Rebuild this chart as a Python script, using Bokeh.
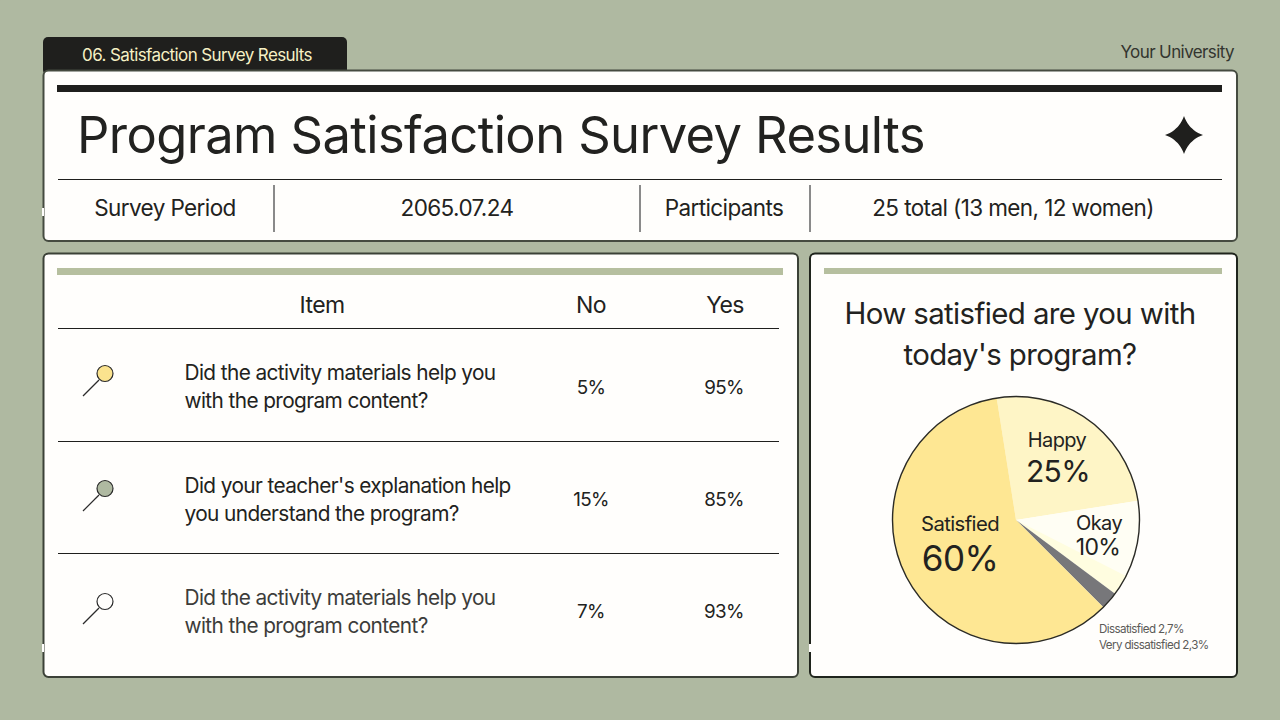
import numpy as np
from bokeh.core.properties import value
from bokeh.embed import file_html
from bokeh.models import GlobalInlineStyleSheet, Range1d
from bokeh.plotting import figure
from bokeh.resources import INLINE

# survey data
tab_label = "06. Satisfaction Survey Results"
school = "Your University"
title = "Program Satisfaction Survey Results"
info_labels = ["Survey Period", "2065.07.24", "Participants", "25 total (13 men, 12 women)"]
table_head = ["Item", "No", "Yes"]
questions = [
    ["Did the activity materials help you", "with the program content?"],
    ["Did your teacher's explanation help", "you understand the program?"],
    ["Did the activity materials help you", "with the program content?"],
]
no_pct = [5, 15, 7]
yes_pct = [95, 85, 93]
pie_question = ["How satisfied are you with", "today's program?"]
pie_labels = ["Happy", "Okay", "Dissatisfied", "Very dissatisfied", "Satisfied"]
pie_values = [25, 10, 2.7, 2.3, 60]
pie_colors = ["#fef5c6", "#fffef4", "#fffde0", "#77777a", "#fee793"]
icon_colors = ["#fbe38e", "#afb9a1", "#fffefc"]

BG = "#afb9a1"
PAPER = "#fffefc"
INK = "#222220"
FONT = "Inter"
SPACING = 0.6


def Y(v):
    # picture pixels count from the top, the plot counts from the bottom
    return 720 - np.asarray(v, dtype=float)


p = figure(width=1264, height=704, output_backend="svg", toolbar_location=None,
           x_range=Range1d(0.5, 1264.5), y_range=Range1d(15.5, 719.5),
           x_axis_type=None, y_axis_type=None, min_border=0,
           background_fill_color=BG, border_fill_color=BG, outline_line_color=None)
p.grid.visible = False
p.stylesheets = [GlobalInlineStyleSheet(css="html,body{background:%s}" % BG)]
# the reference font sets tighter than Inter
p.styles = {"letter-spacing": "-%gpx" % SPACING}


def box(x0, y0, x1, y1, color, line=None, width=1, radius=0):
    p.quad(left=[x0], right=[x1], top=[Y(y0)], bottom=[Y(y1)], fill_color=color,
           line_color=line, line_width=width, border_radius=radius)


def label(x, y, s, size, align="center", color=INK):
    # bokeh anchors the text before the spacing shrinks it, so put the lost width back
    x = x + {"left": 0, "center": 0.5, "right": 1}[align] * SPACING * len(s)
    p.text(x=[x], y=[Y(y)], text=[s], text_font=value(FONT), text_font_size="%gpx" % size,
           text_align=align, text_baseline="middle", text_color=color)


# tab and panels
box(43, 37, 347, 75, "#1f1f1d", radius=5)
box(43.5, 70.5, 1237, 241, PAPER, "#454b40", 2, 5)
box(43.5, 253.5, 798, 677, PAPER, "#3b4137", 2, 5)
box(810, 253.5, 1237, 677, PAPER, "#1f241c", 2, 5)
for wx, wy in [(43, 212), (43, 648), (810, 648)]:
    box(wx - 1, wy - 4, wx + 1, wy + 4, PAPER)
label(197, 54.5, tab_label, 17, color="#f6f0c4")
label(1234, 51.5, school, 17, "right", "#33352f")

# title block
box(57, 85, 1222, 92, "#1f1f1d")
label(77, 134.5, title, 50.7, "left")
p.segment(x0=[58], x1=[1222], y0=Y([179.5]), y1=Y([179.5]), line_color="#1f1f1d", line_width=1)
for vx in [274, 640, 810]:
    p.segment(x0=[vx], x1=[vx], y0=Y([185]), y1=Y([232]), line_color="#8a8a8a", line_width=2)
for x, s in zip([165, 457, 724, 1013], info_labels):
    label(x, 207.5, s, 22.5)

# four pointed star
t = np.linspace(0, 1, 12)
k = 0.26
arm = np.concatenate([(1 - t) ** 2 * c0 + 2 * t * (1 - t) * k * (c0 + c1) + t ** 2 * c1 for c0, c1 in
                      [(19 + 0j, 19j), (19j, -19 + 0j), (-19 + 0j, -19j), (-19j, 19 + 0j)]])
p.patch(1184 + arm.real, Y(135 + arm.imag), fill_color="#1f1f1d", line_color=None)

# table
box(57, 268, 783, 275, "#b6bf9f")
for x, s in zip([322, 591, 725], table_head):
    label(x, 305, s, 23)
for ly in [328.5, 441.5, 553.5]:
    p.segment(x0=[58], x1=[779], y0=Y([ly]), y1=Y([ly]), line_color="#1f1f1d", line_width=1)
for i, (iy, cy, ny) in enumerate(zip([396, 511, 624], [386, 499, 611], [387, 499.5, 611.5])):
    p.segment(x0=[83], x1=[99], y0=Y([iy]), y1=Y([iy - 16]), line_color="#2b2b2b", line_width=1.2)
    p.scatter(x=[105], y=Y([iy - 22.5]), size=16, fill_color=icon_colors[i],
              line_color="#2b2b2b", line_width=1.2)
    label(184.5, cy - 14, questions[i][0], 20.8, "left", INK if i < 2 else "#3c3c3a")
    label(184.5, cy + 14, questions[i][1], 20.8, "left", INK if i < 2 else "#3c3c3a")
    label(591, ny, "%d%%" % no_pct[i], 18.8)
    label(724, ny, "%d%%" % yes_pct[i], 18.8)

# pie panel
box(824, 268, 1222, 274, "#b6bf9f")
label(1020, 313.5, pie_question[0], 29.4)
label(1020, 354.5, pie_question[1], 29.4)

# slices run clockwise from just left of twelve o'clock
shares = np.array(pie_values) / sum(pie_values) * 2 * np.pi
ends = np.cumsum(shares) - np.radians(9)
starts = ends - shares
p.wedge(x=1016, y=Y(520), radius=123.5, start_angle=np.pi / 2 - ends, end_angle=np.pi / 2 - starts,
        fill_color=pie_colors, line_color=None)
p.scatter(x=[1016], y=Y([520]), size=247, fill_color=None, line_color="#2b2b26", line_width=1.4)

label(1057, 440, pie_labels[0], 20)
label(1058, 471, "%d%%" % pie_values[0], 30)
label(1099, 523, pie_labels[1], 20)
label(1098, 547, "%d%%" % pie_values[1], 23)
label(960, 523, pie_labels[4], 20.3)
label(960, 558, "%d%%" % pie_values[4], 35)
label(1099, 629, "%s %s%%" % (pie_labels[2], str(pie_values[2]).replace(".", ",")), 11.6, "left", "#5b5b58")
label(1099, 645, "%s %s%%" % (pie_labels[3], str(pie_values[3]).replace(".", ",")), 11.6, "left", "#5b5b58")

open("out.html", "w").write(file_html(p, INLINE))
